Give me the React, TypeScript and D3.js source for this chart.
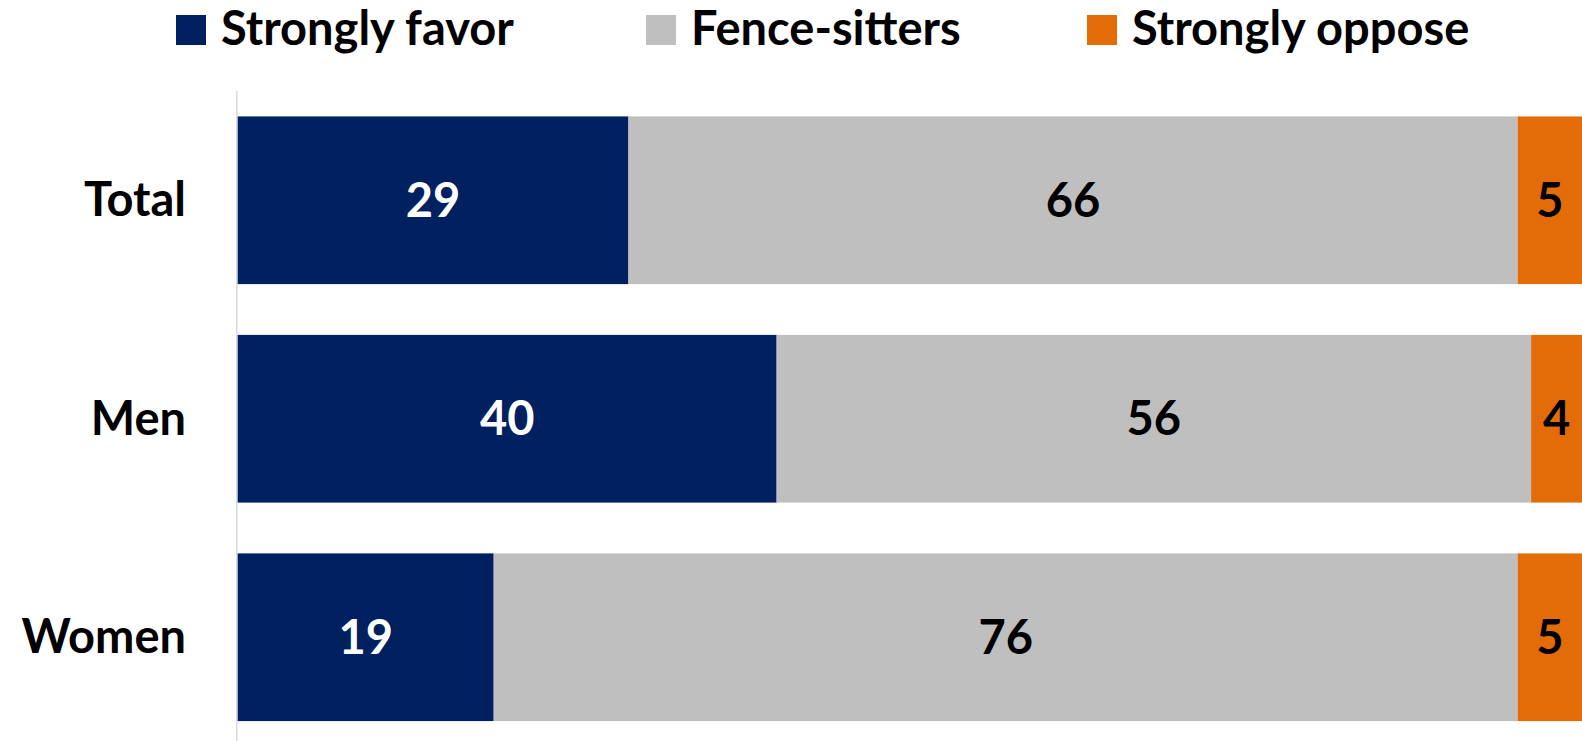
import React, { useRef, useEffect } from 'react';
import * as d3 from 'd3';

// categories (top to bottom) and series values, in percent
const categories = ['Total', 'Men', 'Women'];
const seriesNames = ['Strongly favor', 'Fence-sitters', 'Strongly oppose'];
const stronglyFavor = [29, 40, 19];
const fenceSitters = [66, 56, 76];
const stronglyOppose = [5, 4, 5];

const colors = ['#002060', '#BFBFBF', '#E36C09'];
const labelColors = ['#FFFFFF', '#000000', '#000000'];

export default function App() {
  const svgRef = useRef<SVGSVGElement>(null);

  useEffect(() => {
    document.body.style.margin = '0';
    document.body.style.overflow = 'hidden';

    const width = 1582;
    const height = 741;
    const font = 'Lato, "Noto Sans", sans-serif';
    const fontSize = 47;

    const svg = d3.select(svgRef.current);
    svg.selectAll('*').remove();

    const rows = categories.map((c, i) => ({
      category: c,
      values: [stronglyFavor[i], fenceSitters[i], stronglyOppose[i]],
    }));

    // scales
    const x = d3.scaleLinear().domain([0, 100]).range([237.7, 1585]);
    const y = d3.scaleBand()
      .domain(categories)
      .range([91, 746.5])
      .paddingInner(0.2325)
      .paddingOuter(0.1163);

    // vertical axis line
    svg.append('line')
      .attr('x1', 236.8).attr('x2', 236.8)
      .attr('y1', 91).attr('y2', height)
      .attr('stroke', '#D9D9D9')
      .attr('stroke-width', 1.5);

    // stacked segments
    const rowG = svg.selectAll('.row')
      .data(rows)
      .enter()
      .append('g')
      .attr('class', 'row');

    rowG.each(function (d) {
      const g = d3.select(this);
      let acc = 0;
      d.values.forEach((v, k) => {
        const x0 = x(acc);
        const x1 = x(acc + v);
        acc += v;
        g.append('rect')
          .attr('x', x0)
          .attr('y', y(d.category)!)
          .attr('width', x1 - x0)
          .attr('height', y.bandwidth())
          .attr('fill', colors[k]);
        const cx = k === 2 ? (x0 + width) / 2 : (x0 + x1) / 2;
        g.append('text')
          .attr('x', cx)
          .attr('y', y(d.category)! + y.bandwidth() / 2 + 16.5)
          .attr('text-anchor', 'middle')
          .attr('fill', labelColors[k])
          .style('font-family', font)
          .style('font-weight', 700)
          .style('font-size', `${fontSize}px`)
          .text(v);
      });
    });

    // category labels
    svg.selectAll('.cat')
      .data(categories)
      .enter()
      .append('text')
      .attr('class', 'cat')
      .attr('x', 186)
      .attr('y', d => y(d)! + y.bandwidth() / 2 + 16)
      .attr('text-anchor', 'end')
      .attr('fill', '#000')
      .style('font-family', font)
      .style('font-weight', 700)
      .style('font-size', `${fontSize}px`)
      .text(d => d);

    // legend (square left edges as placed in the original)
    const legendX = [176, 646, 1087];
    const legend = svg.append('g');
    seriesNames.forEach((name, k) => {
      const g = legend.append('g').attr('transform', `translate(${legendX[k]},0)`);
      g.append('rect')
        .attr('x', 0).attr('y', 15)
        .attr('width', 30).attr('height', 30)
        .attr('fill', colors[k]);
      g.append('text')
        .attr('x', 45)
        .attr('y', 45)
        .attr('fill', '#000')
        .style('font-family', font)
        .style('font-weight', 700)
        .style('font-size', `${fontSize}px`)
        .text(name);
    });
  }, []);

  return (
    <svg
      ref={svgRef}
      width={1582}
      height={741}
      style={{ display: 'block', background: '#fff' }}
    ></svg>
  );
}
